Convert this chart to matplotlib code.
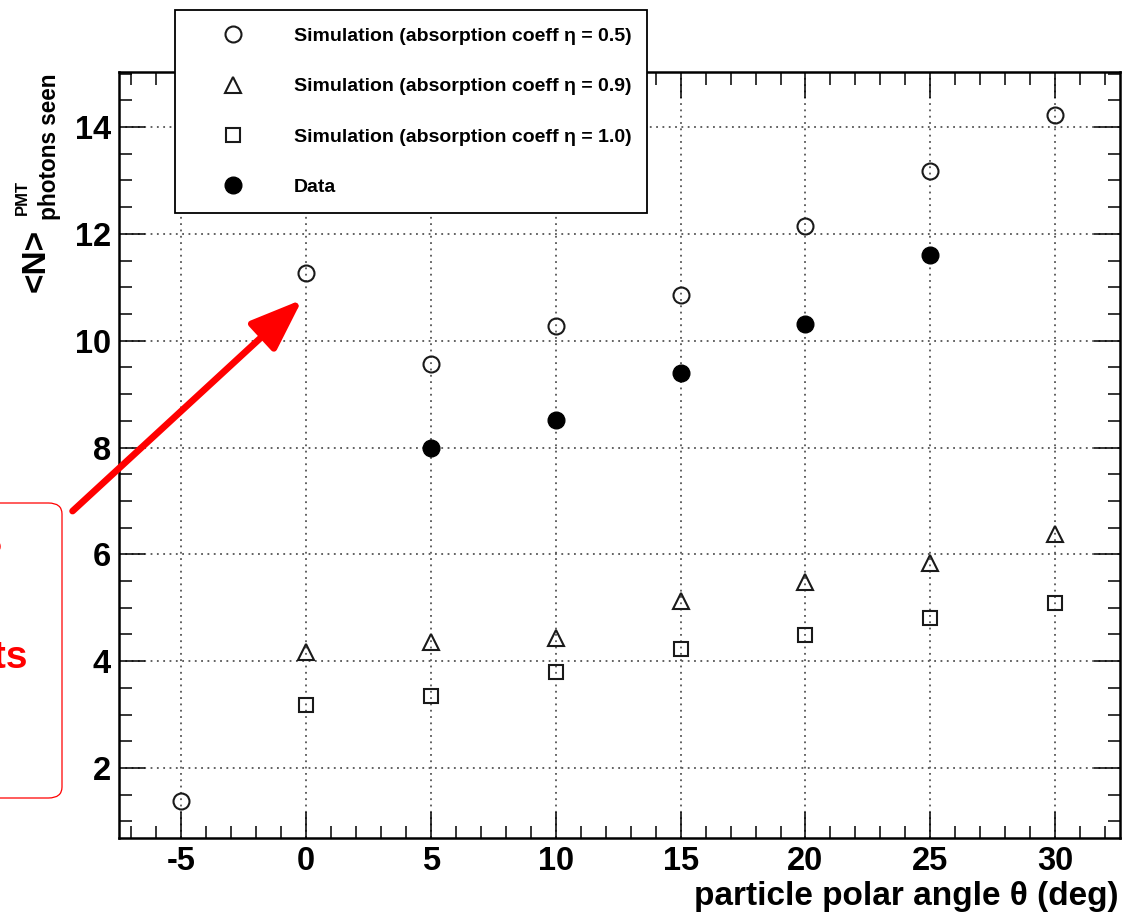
import numpy as np
from matplotlib import pyplot as plt
from matplotlib.patches import FancyBboxPatch

plt.rcParams['font.family'] = ['Liberation Sans', 'DejaVu Sans']
plt.rcParams['axes.unicode_minus'] = False

# polar angle (deg)
angle_sim = [-5, 0, 5, 10, 15, 20, 25, 30]
angle_sim2 = [0, 5, 10, 15, 20, 25, 30]
angle_data = [5, 10, 15, 20, 25]

# mean number of photons seen by the PMT
sim_eta05 = [1.38, 11.27, 9.57, 10.28, 10.86, 12.15, 13.18, 14.23]
sim_eta09 = [4.17, 4.36, 4.43, 5.13, 5.48, 5.84, 6.38]
sim_eta10 = [3.18, 3.35, 3.80, 4.23, 4.49, 4.81, 5.09]
data = [7.99, 8.52, 9.40, 10.31, 11.61]

labels = ['Simulation (absorption coeff \u03b7 = 0.5)',
          'Simulation (absorption coeff \u03b7 = 0.9)',
          'Simulation (absorption coeff \u03b7 = 1.0)',
          'Data']

W, H = 1131, 917
fig = plt.figure(figsize=(W/100, H/100), dpi=100)
ax = fig.add_axes([119/W, 1-838/H, (1120-119)/W, (838-72)/H])

h1, = ax.plot(angle_sim, sim_eta05, 'o', ms=11.5, mfc='none', mec='#1a1a1a', mew=1.5, ls='none', zorder=3)
h2, = ax.plot(angle_sim2, sim_eta09, '^', ms=11.5, mfc='none', mec='#1a1a1a', mew=1.5, ls='none', zorder=3)
h3, = ax.plot(angle_sim2, sim_eta10, 's', ms=10.5, mfc='none', mec='#1a1a1a', mew=1.5, ls='none', zorder=3)
h4, = ax.plot(angle_data, data, 'o', ms=12, color='black', ls='none', zorder=3)

ax.set_xlim(-7.5, 32.6)
ax.set_ylim(0.69, 15.03)
ax.set_xticks(np.arange(-5, 31, 5))
ax.set_xticks(np.arange(-7, 33, 1), minor=True)
ax.set_yticks(np.arange(2, 15, 2))
ax.set_yticks(np.arange(1, 15.1, 0.5), minor=True)
ax.grid(True, which='major', color='#555', ls=(0, (1, 2.5)), lw=1.3)

for s in ax.spines.values():
    s.set_linewidth(1.8)
ax.tick_params(which='both', direction='in', top=True, right=True, width=1.1)
ax.tick_params(which='major', length=19, labelsize=23.5, pad=6)
ax.tick_params(which='minor', length=9)
for lab in ax.get_xticklabels() + ax.get_yticklabels():
    lab.set_fontweight('bold')

fig.text(1118/W, 1-897/H, 'particle polar angle \u03b8 (deg)', ha='right', va='center',
         fontsize=24, fontweight='bold')

# y label: <N>^PMT_photons seen
fig.text(36/W, 1-229/H, '<N>', rotation=90, ha='center', va='top', fontsize=24, fontweight='bold')
fig.text(22/W, 1-180/H, 'PMT', rotation=90, ha='center', va='top', fontsize=12, fontweight='bold')
fig.text(50/W, 1-73/H, 'photons seen', rotation=90, ha='center', va='top', fontsize=16.3, fontweight='bold')

leg = fig.legend([h1, h2, h3, h4], labels, loc='upper left',
                 bbox_to_anchor=(175/W, 1-10/H, (647-175)/W, 0), mode='expand',
                 prop={'weight': 'bold', 'size': 14},
                 frameon=True, fancybox=False, edgecolor='black', framealpha=1,
                 borderpad=0.9, labelspacing=1.68, handlelength=4.15, handletextpad=1.06,
                 borderaxespad=0)
leg.get_frame().set_linewidth(1.3)
leg.set_zorder(5)

# red annotation box (cut off at the left edge)
box = FancyBboxPatch((-200/W, 1-798/H), (262)/W, (798-503)/H,
                     boxstyle='round,pad=0,rounding_size=0.012', transform=fig.transFigure,
                     fc='none', ec='red', lw=0.9)
fig.patches.append(box)
fig.text(4/W, 1-566/H, 'Why?', ha='right', va='baseline', color='red', fontsize=28, fontweight='bold')
fig.text(28/W, 1-668/H, 'counts', ha='right', va='baseline', color='red', fontsize=28, fontweight='bold')

ax.annotate('', xy=(-0.16, 10.77), xytext=(-9.36, 6.81), annotation_clip=False,
            arrowprops=dict(arrowstyle='-|>,head_length=1.6,head_width=0.6', color='red',
                            lw=4.8, mutation_scale=20, shrinkA=0, shrinkB=0))

fig.savefig('out.png', dpi=100)
